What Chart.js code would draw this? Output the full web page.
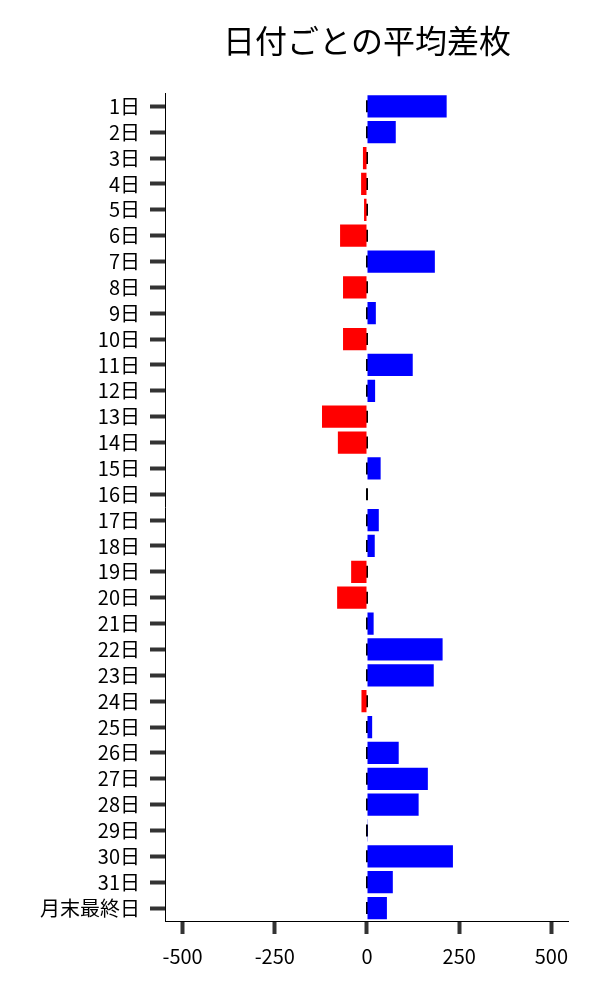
<!DOCTYPE html>
<html><head><meta charset="utf-8">
<script src="https://cdn.jsdelivr.net/npm/chart.js@4"></script>
<style>html,body{margin:0;padding:0;background:#fff}#w{width:600px;height:1000px}</style>
</head><body><div id="w"><canvas id="c" width="600" height="1000"></canvas></div>
<script>
const categories = ["1日","2日","3日","4日","5日","6日","7日","8日","9日","10日","11日","12日","13日","14日","15日","16日","17日","18日","19日","20日","21日","22日","23日","24日","25日","26日","27日","28日","29日","30日","31日","月末最終日"];
const avgDiff = [216,78,-11,-16,-8,-73,184,-65,24,-65,124,22,-122,-79,37,0,32,21,-43,-81,18,205,181,-15,14,86,165,140,2,233,70,54];
const xTicks = [-500,-250,0,250,500];
const titleText = "日付ごとの平均差枚";
const FONT = "'Noto Sans CJK JP','Noto Sans',sans-serif";

new Chart(document.getElementById('c'), {
  data: {
    labels: categories,
    datasets: [
      {
        type: 'bar',
        data: avgDiff,
        backgroundColor: avgDiff.map(v => v < 0 ? '#ff0000' : '#0000ff'),
        barPercentage: 0.86,
        categoryPercentage: 1.0,
        borderWidth: 0
      },
      {
        type: 'line',
        data: categories.map(c => ({x: 0, y: c})),
        showLine: false,
        pointStyle: 'line',
        rotation: 90,
        pointRadius: 6,
        borderColor: '#000',
        borderWidth: 2,
        pointBorderWidth: 2
      }
    ]
  },
  options: {
    indexAxis: 'y',
    responsive: false,
    animation: false,
    layout: {padding: {left: 30, right: 32, top: 14, bottom: 22}},
    plugins: {
      legend: {display: false},
      tooltip: {enabled: false},
      title: {display: true, fullSize: false, text: titleText, color: '#000',
        font: {family: FONT, size: 32, weight: 'normal'}, padding: {top: 8, bottom: 33}}
    },
    scales: {
      x: {
        type: 'linear', min: -545, max: 545,
        afterBuildTicks: ax => { ax.ticks = xTicks.map(v => ({value: v})); },
        grid: {drawOnChartArea: false, drawTicks: true, tickLength: 13, tickWidth: 4, tickColor: '#333'},
        border: {display: true, color: '#000', width: 1},
        ticks: {color: '#000', font: {family: FONT, size: 20}, padding: 10, maxRotation: 0}
      },
      y: {
        type: 'category', offset: true,
        grid: {drawOnChartArea: false, drawTicks: true, tickLength: 16, tickWidth: 4, tickColor: '#333', offset: false},
        border: {display: true, color: '#000', width: 1},
        ticks: {color: '#000', font: {family: FONT, size: 20}, padding: 10, autoSkip: false}
      }
    }
  }
});
</script></body></html>
